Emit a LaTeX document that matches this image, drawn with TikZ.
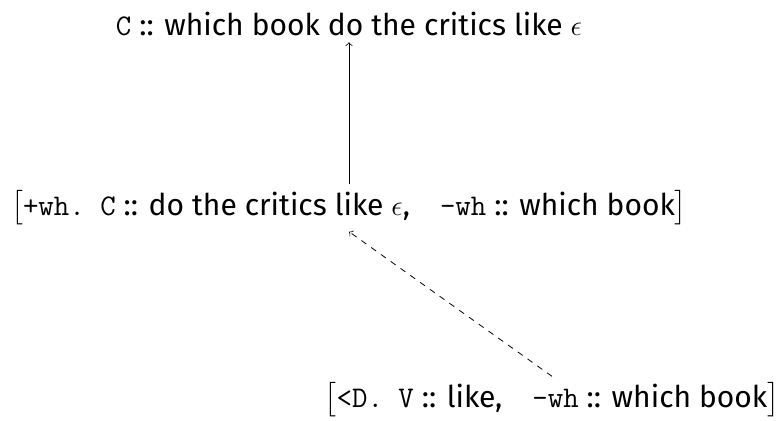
\documentclass[tikz,border=0pt]{standalone}
\usepackage{amsmath}
\usepackage{fontspec}
\setmainfont{Fira Sans}
\usetikzlibrary{positioning}
\newcommand{\feat}[1]{\texttt{#1}}

\begin{document}
\begin{tikzpicture}[x=0.5pt,y=-0.5pt,>=to,
  expr/.style={font=\fontsize{15}{18}\selectfont,inner sep=3pt},
  move/.style={->},
  smove/.style={->,dashed}]
\useasboundingbox (0,0) rectangle (783,421);
\node[expr] (top) at (349,24) {\feat{C} :: which book do the critics like $\epsilon$};
\node[expr] (mid) at (349,208) {$\big[$\feat{+wh.~C} :: do the critics like $\epsilon$,\quad \feat{-wh} :: which book$\big]$};
\node[expr] (bot) at (552,400) {$\big[$\feat{<D.~V} :: like,\quad \feat{-wh} :: which book$\big]$};
\draw[move] (mid.north -| top.south) -- (top.south);
\draw[smove] (bot.north) -- (mid.south);
\end{tikzpicture}
\end{document}
